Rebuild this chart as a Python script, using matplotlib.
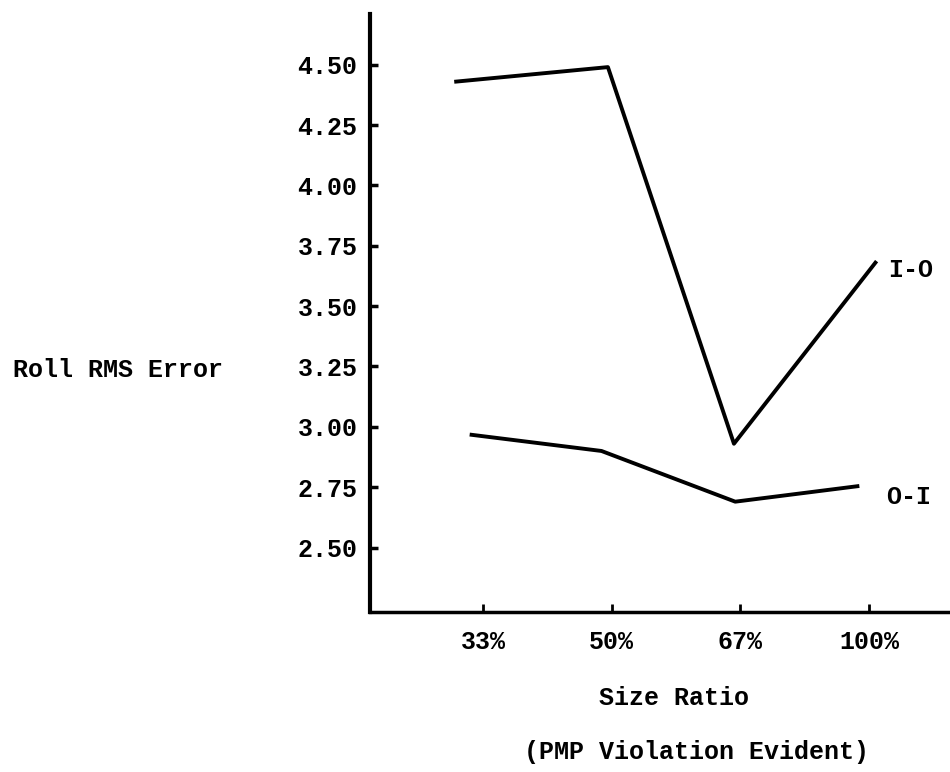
import matplotlib
matplotlib.use("Agg")
import matplotlib.pyplot as plt

# 数据
categories = ["33%", "50%", "67%", "100%"]
cat_pos = [0, 1, 2, 3]
y_ticks = [2.50, 2.75, 3.00, 3.25, 3.50, 3.75, 4.00, 4.25, 4.50]

# 手绘曲线的实际横向位置略有偏移
io_x = [-0.21, 0.97, 1.95, 3.05]
io_y = [4.43, 4.49, 2.93, 3.68]
oi_x = [-0.09, 0.92, 1.96, 2.91]
oi_y = [2.967, 2.90, 2.69, 2.754]

FONT = "Liberation Mono"
FS = 18
FW = "bold"

fig = plt.figure(figsize=(9.5, 7.72), dpi=100)
ax = fig.add_axes([370 / 950, 1 - 612 / 772, 1 - 370 / 950, (612 - 14) / 772])

ax.plot(io_x, io_y, "k-", lw=2.8)
ax.plot(oi_x, oi_y, "k-", lw=2.8)
ax.annotate("I-O", (io_x[-1], io_y[-1]), xytext=(9, -5), textcoords="offset points",
            fontsize=FS, family=FONT, weight=FW, va="center", ha="left")
ax.annotate("O-I", (oi_x[-1], oi_y[-1]), xytext=(21, -8), textcoords="offset points",
            fontsize=FS, family=FONT, weight=FW, va="center", ha="left")

ax.set_xlim(-0.88, 3.63)
ax.set_ylim(2.233, 4.71)
ax.set_xticks(cat_pos)
ax.set_xticklabels(categories)
ax.set_yticks(y_ticks)
ax.set_yticklabels([f"{v:.2f}" for v in y_ticks])
ax.tick_params(axis="y", direction="in", length=6, width=2.5, pad=9)
ax.tick_params(axis="x", direction="in", length=6, width=2, pad=13)
for lab in ax.get_xticklabels() + ax.get_yticklabels():
    lab.set_family(FONT)
    lab.set_fontsize(FS)
    lab.set_weight(FW)

for s in ["top", "right"]:
    ax.spines[s].set_visible(False)
ax.spines["left"].set_linewidth(3)
ax.spines["bottom"].set_linewidth(2.5)

fig.text(13 / 950, 1 - 370 / 772, "Roll RMS Error", family=FONT, fontsize=FS,
         weight=FW, ha="left", va="center")
fig.text(674 / 950, 1 - 698 / 772, "Size Ratio", family=FONT, fontsize=FS,
         weight=FW, ha="center", va="center")
fig.text(696 / 950, 1 - 752 / 772, "(PMP Violation Evident)", family=FONT, fontsize=FS,
         weight=FW, ha="center", va="center")

fig.savefig("out.png", dpi=100)
